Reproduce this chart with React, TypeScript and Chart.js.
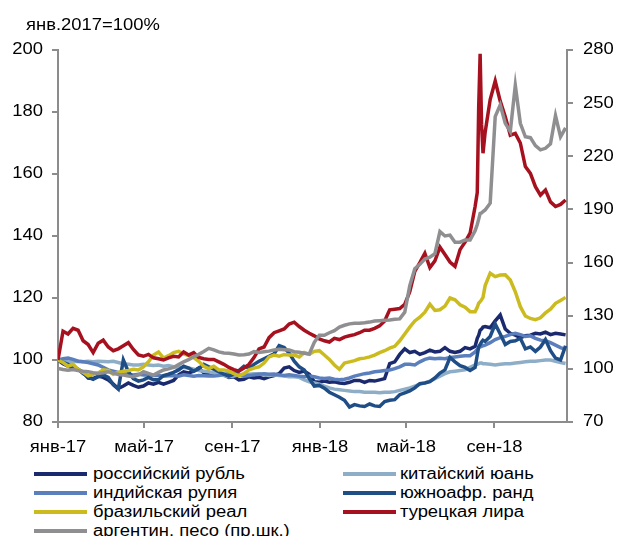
import React, { useEffect, useRef } from "react";
import { Chart, registerables } from "chart.js";

Chart.register(...registerables);

// Days since 1 Jan 2017
const DAYS = [
  0, 7, 14, 21, 28, 35, 42, 49, 56, 63,
  70, 77, 84, 91, 98, 105, 112, 119, 126, 133,
  140, 147, 154, 161, 168, 175, 182, 189, 196, 203,
  210, 217, 224, 231, 238, 245, 252, 259, 266, 273,
  280, 287, 294, 301, 308, 315, 322, 329, 336, 343,
  350, 357, 364, 371, 378, 385, 392, 399, 406, 413,
  420, 427, 434, 441, 448, 455, 462, 469, 476, 483,
  490, 497, 504, 511, 518, 525, 532, 539, 546, 553,
  560, 567, 574, 581, 584, 586, 588, 590, 592, 595,
  602, 609, 616, 623, 630, 637, 644, 651, 658, 665,
  672, 679, 686, 693, 700, 707,
];

const TICK_DAYS = [0, 120, 243, 365, 485, 608];
const TICK_LABELS = ["янв-17", "май-17", "сен-17", "янв-18", "май-18", "сен-18"];

const RUB = [
  100, 98.8, 98.0, 97.4, 97.0, 96.0, 94.2, 94.0, 94.8, 94.4,
  93.6, 92.2, 90.8, 91.6, 92.6, 91.8, 91.2, 91.6, 92.6, 92.2,
  92.8, 92.2, 92.8, 93.4, 95.2, 96.2, 95.8, 96.4, 97.4, 95.9,
  95.4, 95.6, 95.8, 95.2, 94.4, 94.6, 93.6, 93.8, 94.6, 94.2,
  94.4, 94.0, 94.6, 95.0, 95.6, 97.4, 97.8, 96.6, 96.0, 96.4,
  95.4, 93.0, 92.8, 93.2, 92.8, 93.0, 92.6, 92.4, 92.8, 93.4,
  93.4, 92.8, 93.4, 93.2, 93.6, 94.0, 98.8, 99.4, 101.8, 103.6,
  102.4, 102.8, 101.8, 102.4, 103.2, 102.6, 102.8, 104.0, 102.8, 102.4,
  102.8, 104.0, 103.6, 104.4, 107.0, 108.0, 109.6, 110.0, 110.6, 110.8,
  110.4, 112.6, 114.5, 110.0, 108.6, 108.0, 107.2, 107.8, 108.0, 108.6,
  108.4, 109.0, 108.2, 108.6, 108.4, 108.1,
];

const CNY = [
  100, 99.8, 99.4, 99.5, 99.6, 99.4, 99.6, 99.4, 99.6, 99.5,
  99.4, 99.6, 99.2, 98.8, 98.6, 98.4, 98.4, 98.6, 98.4, 98.2,
  98.4, 98.0, 98.2, 97.8, 97.6, 97.6, 97.4, 97.0, 96.6, 96.4,
  96.2, 95.8, 95.4, 95.0, 94.6, 94.8, 95.2, 95.4, 95.4, 95.6,
  95.6, 95.2, 95.0, 95.2, 95.0, 94.8, 94.6, 94.6, 94.4, 93.6,
  93.0, 92.6, 92.2, 91.6, 91.0, 90.6, 90.4, 90.2, 90.0, 89.8,
  89.8, 89.6, 89.6, 89.6, 89.4, 89.6, 89.6, 89.8, 90.2, 90.6,
  91.0, 91.6, 92.2, 92.6, 93.2, 94.0, 94.8, 95.6, 96.2, 96.4,
  96.6, 96.8, 97.6, 98.4, 98.6, 98.8, 99.0, 99.0, 98.8, 98.8,
  98.6, 98.4, 98.6, 98.8, 98.8, 99.0, 99.2, 99.4, 99.6, 99.6,
  99.8, 100.0, 100.0, 99.6, 99.2, 98.9,
];

const INR = [
  100, 100.4, 100.6, 100.2, 99.6, 99.4, 99.2, 98.8, 98.4, 97.6,
  96.8, 96.4, 96.0, 95.6, 95.4, 95.2, 95.4, 95.2, 95.2, 95.0,
  95.0, 94.8, 94.9, 95.0, 94.8, 95.2, 95.0, 94.8, 95.0, 94.9,
  94.8, 94.8, 95.0, 95.4, 95.6, 95.8, 95.2, 94.8, 95.0, 95.2,
  95.4, 95.6, 95.4, 95.5, 95.2, 95.0, 95.2, 95.0, 94.8, 94.6,
  94.8, 94.6, 94.2, 94.0, 94.2, 93.8, 93.6, 93.8, 94.2, 94.8,
  95.2, 95.6, 95.8, 96.2, 96.4, 96.6, 96.8, 97.2, 97.8, 98.6,
  98.6, 98.4, 99.4, 100.2, 100.6, 100.4, 100.6, 100.4, 100.8, 101.0,
  101.2, 101.4, 101.4, 102.6, 103.4, 104.0, 104.2, 104.4, 104.6, 104.8,
  105.6, 106.6, 107.2, 107.6, 108.2, 108.6, 108.2, 107.6, 107.8, 107.0,
  106.4, 106.2, 105.6, 104.8, 104.0, 103.4,
];

const ZAR = [
  100, 99.2, 98.6, 97.8, 97.0, 95.6, 94.6, 93.8, 94.6, 95.2,
  94.4, 92.0, 90.6, 100.0, 96.2, 94.0, 93.2, 93.6, 94.4, 93.6,
  93.6, 95.0, 95.4, 96.0, 96.8, 98.0, 97.4, 96.4, 97.2, 98.6,
  97.8, 97.0, 96.2, 95.4, 94.8, 95.4, 96.6, 98.0, 97.4, 98.6,
  99.6, 100.4, 101.2, 102.0, 104.6, 104.0, 102.2, 99.6, 97.8, 96.8,
  94.0, 91.6, 91.8, 90.9, 89.6, 88.8, 88.0, 87.0, 84.8, 85.6,
  85.2, 85.0, 85.8, 85.2, 85.0, 86.6, 87.0, 87.2, 88.8, 89.4,
  90.0, 91.0, 92.4, 92.6, 93.0, 94.2, 95.8, 96.8, 100.8, 99.4,
  98.2, 97.6, 96.6, 97.6, 101.6, 104.3, 105.0, 105.8, 106.4, 106.0,
  107.6, 111.6, 108.4, 105.0, 106.0, 106.2, 107.0, 103.6, 104.2, 102.8,
  104.2, 106.6, 103.0, 100.6, 100.0, 104.6,
];

const BRL = [
  100, 99.2, 98.0, 98.6, 97.0, 96.0, 94.9, 95.4, 95.8, 96.8,
  96.6, 95.4, 96.0, 96.4, 96.6, 97.0, 96.8, 97.8, 99.4, 101.6,
  102.6, 100.6, 101.4, 102.4, 102.8, 102.0, 101.4, 100.8, 99.6, 98.0,
  97.2, 98.0, 96.8, 96.8, 96.4, 95.6, 94.9, 95.6, 96.8, 97.4,
  97.8, 99.0, 101.0, 101.6, 101.2, 101.8, 101.6, 101.6, 101.0, 102.4,
  101.8, 102.8, 103.0, 101.6, 100.2, 98.4, 97.0, 99.0, 99.4, 99.8,
  100.4, 100.6, 101.0, 101.6, 102.4, 103.0, 103.8, 104.4, 106.2, 108.4,
  110.6, 112.6, 113.8, 115.4, 118.0, 116.0, 116.2, 117.4, 120.0, 119.4,
  117.8, 117.0, 115.6, 115.6, 117.0, 118.3, 118.8, 119.4, 120.2, 124.0,
  128.0, 126.9, 127.4, 127.5, 125.8, 122.0, 117.2, 114.2, 113.4, 113.0,
  113.6, 115.2, 116.4, 118.3, 119.2, 120.2,
];

const TRY = [
  100, 109.3, 108.4, 110.2, 109.6, 106.2, 105.0, 102.4, 105.4, 106.4,
  104.2, 103.0, 103.6, 104.6, 105.6, 103.4, 101.6, 101.2, 101.8, 100.7,
  100.4, 100.0, 100.7, 101.2, 101.0, 102.6, 101.6, 102.4, 100.8, 100.4,
  100.2, 100.2, 99.4, 98.6, 97.6, 96.9, 96.4, 97.4, 98.6, 100.8,
  103.6, 104.2, 107.2, 108.8, 109.4, 110.0, 111.6, 112.2, 110.8, 109.6,
  108.6, 107.8, 106.8, 106.2, 105.8, 107.0, 106.6, 107.4, 107.8, 108.2,
  108.8, 109.6, 109.6, 110.2, 111.0, 112.6, 116.2, 116.4, 116.6, 118.0,
  122.0, 128.6, 131.4, 134.4, 129.8, 132.0, 136.4, 134.0, 131.6, 130.2,
  135.6, 138.0, 140.9, 149.5, 154.0, 181.7, 198.8, 176.0, 166.7, 173.5,
  184.0, 190.0, 183.5, 178.5, 172.5, 173.1, 170.0, 162.4, 160.2, 155.9,
  153.2, 154.8, 151.0, 149.5, 150.2, 151.6,
];

// Right axis
const ARS = [
  100.3, 99.6, 99.2, 99.6, 99.0, 98.6, 98.4, 97.8, 97.4, 97.8,
  98.4, 97.6, 96.8, 96.5, 96.0, 95.6, 96.6, 98.4, 97.4, 96.5,
  98.0, 99.4, 100.0, 100.8, 102.4, 104.0, 105.2, 106.9, 108.2, 109.8,
  111.6, 110.7, 109.6, 109.0, 108.8, 108.4, 107.8, 108.0, 108.4, 109.7,
  109.2, 109.6, 110.0, 110.7, 111.0, 110.8, 110.6, 109.7, 109.4, 108.8,
  108.4, 115.0, 119.0, 119.0, 120.4, 121.6, 123.6, 124.6, 125.4, 125.8,
  125.8, 126.0, 126.4, 127.0, 127.2, 127.4, 127.6, 128.0, 128.2, 132.0,
  147.0, 156.5, 159.0, 162.0, 163.0, 165.0, 177.5, 175.0, 175.5, 171.5,
  171.5, 172.7, 172.7, 178.0, 181.5, 184.5, 187.8, 188.0, 188.8, 189.7,
  193.5, 242.4, 249.0, 238.6, 234.0, 260.0, 238.6, 231.0, 230.5, 226.0,
  223.6, 224.5, 227.0, 243.0, 231.0, 236.0,
];

const LABELS = [
  "российский рубль",
  "китайский юань",
  "индийская рупия",
  "южноафр. ранд",
  "бразильский реал",
  "турецкая лира",
  "аргентин. песо (пр.шк.)",
];
const COLORS = ["#1b2a6e", "#8eaec8", "#5b7fbc", "#1f4e86", "#cbbb1e", "#a6111f", "#8f8f91"];
const VALUES = [RUB, CNY, INR, ZAR, BRL, TRY, ARS];
const AXES = ["y", "y", "y", "y", "y", "y", "y2"];

const FONT = '"Liberation Sans", Arial, Helvetica, sans-serif';
const STRETCH = 1.15;
const AXIS_COLOR = "#8c8c8c";

// Draws axis tick labels horizontally widened like the reference's type
const stretchedLabels = {
  id: "stretchedLabels",
  afterDraw(chart: any) {
    const ctx = chart.ctx as CanvasRenderingContext2D;
    const put = (text: string, x: number, y: number, align: CanvasTextAlign, base: CanvasTextBaseline) => {
      ctx.save();
      ctx.translate(x, y);
      ctx.scale(STRETCH, 1);
      ctx.textAlign = align;
      ctx.textBaseline = base;
      ctx.fillText(text, 0, 0);
      ctx.restore();
    };
    ctx.save();
    ctx.fillStyle = "#000";
    ctx.font = `16px ${FONT}`;
    const xs = chart.scales.x;
    xs.ticks.forEach((t: any, i: number) => {
      put(TICK_LABELS[i], xs.getPixelForValue(t.value), xs.top + 30, "center", "alphabetic");
    });
    const yl = chart.scales.y;
    yl.ticks.forEach((t: any) => {
      put(String(t.value), yl.right - 15, yl.getPixelForValue(t.value), "right", "middle");
    });
    const yr = chart.scales.y2;
    yr.ticks.forEach((t: any) => {
      put(String(t.value), yr.left + 16, yr.getPixelForValue(t.value), "left", "middle");
    });
    ctx.restore();
  },
};

export default function App() {
  const ref = useRef<HTMLCanvasElement>(null);

  useEffect(() => {
    document.body.style.margin = "0";
    const datasets = VALUES.map((vals, i) => ({
      label: LABELS[i],
      data: DAYS.map((d, j) => ({ x: d, y: vals[j] })),
      borderColor: COLORS[i],
      backgroundColor: COLORS[i],
      borderWidth: 3.5,
      pointRadius: 0,
      tension: 0,
      yAxisID: AXES[i],
      order: VALUES.length - i,
    }));
    const gridOpts = { display: true, drawOnChartArea: false, drawTicks: true, tickLength: 6, color: AXIS_COLOR, lineWidth: 2 };
    const borderOpts = { display: true, color: AXIS_COLOR, width: 2 };
    const chart = new Chart(ref.current as HTMLCanvasElement, {
      type: "line",
      data: { datasets },
      plugins: [stretchedLabels],
      options: {
        animation: false,
        responsive: false,
        maintainAspectRatio: false,
        layout: { padding: { top: 50, left: 0, right: 0, bottom: 0 } },
        plugins: { legend: { display: false }, tooltip: { enabled: false } },
        scales: {
          x: {
            type: "linear",
            min: 0,
            max: 709,
            afterBuildTicks: (s: any) => {
              s.ticks = TICK_DAYS.map((v) => ({ value: v }));
            },
            afterFit: (s: any) => {
              s.height = 38;
            },
            ticks: { display: false, autoSkip: false },
            grid: gridOpts,
            border: borderOpts,
          },
          y: {
            position: "left",
            min: 80,
            max: 200,
            afterFit: (s: any) => {
              s.width = 58;
            },
            ticks: { display: false, stepSize: 20 },
            grid: gridOpts,
            border: borderOpts,
          },
          y2: {
            position: "right",
            min: 70,
            max: 280,
            afterFit: (s: any) => {
              s.width = 50;
            },
            ticks: { display: false, stepSize: 30 },
            grid: gridOpts,
            border: borderOpts,
          },
        },
      },
    } as any);
    return () => chart.destroy();
  }, []);

  const legendRows = [474, 493, 512, 531];
  const legendLineX = [34, 343];
  const legendTextX = [93, 400];
  const textStyle: React.CSSProperties = {
    position: "absolute",
    fontSize: 16,
    lineHeight: "20px",
    color: "#000",
    whiteSpace: "nowrap",
    transform: `scaleX(${STRETCH})`,
    transformOrigin: "0 50%",
  };

  return (
    <div style={{ position: "relative", width: 617, height: 536, overflow: "hidden", background: "#fff", fontFamily: FONT }}>
      <canvas ref={ref} width={617} height={460} style={{ position: "absolute", left: 0, top: 0, width: 617, height: 460 }} />
      <div style={{ ...textStyle, left: 26, top: 15 }}>янв.2017=100%</div>
      {LABELS.map((lab, i) => {
        const row = Math.floor(i / 2);
        const col = i % 2;
        const cy = legendRows[row];
        return (
          <React.Fragment key={lab}>
            <div style={{ position: "absolute", left: legendLineX[col], top: cy - 2, width: 53, height: 4, background: COLORS[i] }} />
            <div style={{ ...textStyle, left: legendTextX[col], top: cy - 10 }}>{lab}</div>
          </React.Fragment>
        );
      })}
    </div>
  );
}
